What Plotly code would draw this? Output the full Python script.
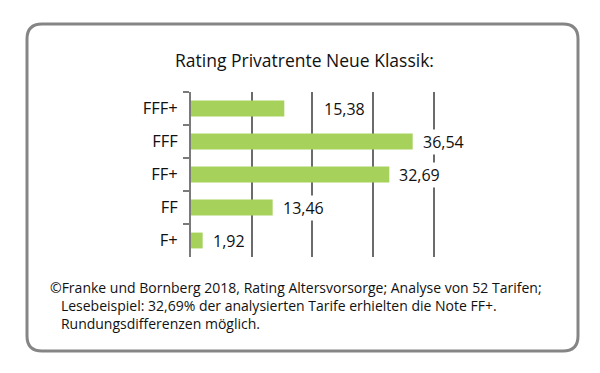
import plotly.graph_objects as go

categories = ["FFF+", "FFF", "FF+", "FF", "F+"]
values = [15.38, 36.54, 32.69, 13.46, 1.92]
value_labels = ["15,38", "36,54", "32,69", "13,46", "1,92"]
title_text = "Rating Privatrente Neue Klassik:"
footer_lines = [
    "©Franke und Bornberg 2018, Rating Altersvorsorge; Analyse von 52 Tarifen;",
    "Lesebeispiel: 32,69% der analysierten Tarife erhielten die Note FF+.",
    "Rundungsdifferenzen möglich.",
]

W, H = 600, 373
L, R, T, B = 191, 464, 92, 257
pw, ph = R - L, B - T

def px(x):
    return (x - L) / pw

def py(y):
    return (B - y) / ph

FONT = "Open Sans"
TXT = "#111111"
fig = go.Figure()
fig.add_trace(go.Bar(
    y=categories, x=values, orientation="h",
    marker=dict(color="#a6d15b", line=dict(width=0)),
    width=0.48, hoverinfo="skip",
))

annotations = []
shifts = [38, 8, 8, 8, 8]
for c, v, t, s in zip(categories, values, value_labels, shifts):
    annotations.append(dict(x=v, y=c, xref="x", yref="y", text=t, showarrow=False,
                            xanchor="left", yanchor="middle", xshift=s,
                            bgcolor="white", borderpad=1,
                            font=dict(family=FONT, size=16, color=TXT)))

annotations.append(dict(x=px(304), y=py(60), xref="paper", yref="paper", text=title_text,
                        showarrow=False, xanchor="center", yanchor="middle",
                        font=dict(family=FONT, size=17.5, color=TXT)))

indent = "&nbsp;" * 3
footer_text = "<br>".join([footer_lines[0]] + [indent + ln for ln in footer_lines[1:]])
annotations.append(dict(x=px(48), y=py(276), xref="paper", yref="paper", text=footer_text,
                        showarrow=False, xanchor="left", yanchor="top", align="left",
                        font=dict(family=FONT, size=14, color=TXT)))

# rounded frame
x0, x1, y0, y1, r = 27, 578, 24, 351, 15
path = (f"M {px(x0 + r)},{py(y0)} L {px(x1 - r)},{py(y0)} "
        f"Q {px(x1)},{py(y0)} {px(x1)},{py(y0 + r)} "
        f"L {px(x1)},{py(y1 - r)} Q {px(x1)},{py(y1)} {px(x1 - r)},{py(y1)} "
        f"L {px(x0 + r)},{py(y1)} Q {px(x0)},{py(y1)} {px(x0)},{py(y1 - r)} "
        f"L {px(x0)},{py(y0 + r)} Q {px(x0)},{py(y0)} {px(x0 + r)},{py(y0)} Z")

fig.update_layout(
    width=W, height=H,
    margin=dict(l=L, r=W - R, t=T, b=H - B, pad=0),
    paper_bgcolor="white", plot_bgcolor="white",
    showlegend=False,
    annotations=annotations,
    shapes=[dict(type="path", path=path, xref="paper", yref="paper",
                 line=dict(color="#858585", width=3), layer="above")],
    xaxis=dict(range=[0, 45], dtick=10, tick0=0, showgrid=True, gridcolor="#6b6b6b",
               gridwidth=2, showticklabels=False, zeroline=False, showline=False,
               ticks="", fixedrange=True),
    yaxis=dict(autorange="reversed", showline=True, linecolor="#7a7a7a", linewidth=2,
               ticks="outside", tickson="boundaries", ticklen=6, tickwidth=2,
               tickcolor="#7a7a7a", showgrid=False,
               tickfont=dict(family=FONT, size=16.5, color=TXT),
               ticklabelstandoff=8, fixedrange=True),
)
fig.write_html("out.html", config={"displayModeBar": False},
               post_script="document.body.style.margin='0';document.body.style.overflow='hidden';")
